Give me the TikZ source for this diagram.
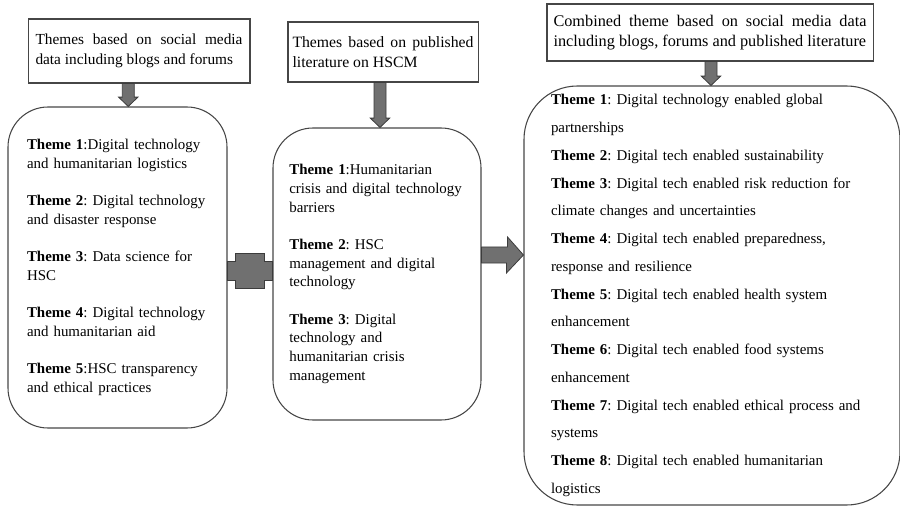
\documentclass[tikz,border=0pt]{standalone}
\usepackage{fontspec}
\setmainfont{Liberation Serif}
\usetikzlibrary{calc}
\frenchspacing
\hyphenpenalty=10000
\exhyphenpenalty=10000

\definecolor{linegray}{RGB}{70,70,70}
\definecolor{arrowgray}{RGB}{112,112,112}
\definecolor{arrowedge}{RGB}{60,60,60}

% block arrow pointing down, from the bottom of #1 to the top of #2
\newcommand{\downblock}[2]{%
  \draw[blockarr] let \p1=(#1.south), \p2=(#2.north), \n1={(\x1+\x2)/2} in
    (\n1-4.5pt,\y1) -- (\n1-4.5pt,\y2+7pt) -- (\n1-7.25pt,\y2+7pt) -- (\n1,\y2)
    -- (\n1+7.25pt,\y2+7pt) -- (\n1+4.5pt,\y2+7pt) -- (\n1+4.5pt,\y1) -- cycle;}

\begin{document}
\begin{tikzpicture}[x=0.75pt,y=-0.75pt,
    srcbox/.style={draw=linegray,line width=0.8pt,align=justify,inner ysep=0pt,
      font=\fontsize{11.5}{14.5}\selectfont},
    themebox/.style={draw=linegray,line width=0.8pt,rounded corners=30pt,
      align=left,inner sep=0pt,font=\fontsize{11.2}{14}\selectfont},
    blockarr/.style={draw=arrowedge,fill=arrowgray,line width=0.6pt}]

  \useasboundingbox (0,0) rectangle (900,506);

  % source boxes
  \node[srcbox,text width=155.25pt,inner xsep=5.6pt,minimum height=48pt] (srcA) at (139,51)
    {Themes based on social media\break data including blogs and forums};
  \node[srcbox,text width=135.75pt,inner xsep=3.4pt,minimum height=45pt,
        font=\fontsize{11.8}{14.5}\selectfont] (srcB) at (383,52)
    {Themes based on published\break literature on HSCM};
  \node[srcbox,text width=234.75pt,inner xsep=4.9pt,minimum height=42.75pt,
        font=\fontsize{12.2}{15}\selectfont] (srcC) at (710,32.5)
    {Combined theme based on social media data\break including blogs, forums and published literature};

  % theme boxes
  \node[themebox,minimum width=164.25pt,minimum height=240.75pt,text width=135.75pt] (box1) at (117.5,267.5)
    {\textbf{Theme 1}:Digital technology\\ and humanitarian logistics\\[14pt]
     \textbf{Theme 2}: Digital technology\\ and disaster response\\[14pt]
     \textbf{Theme 3}: Data science for\\ HSC\\[14pt]
     \textbf{Theme 4}: Digital technology\\ and humanitarian aid\\[14pt]
     \textbf{Theme 5}:HSC transparency\\ and ethical practices};
  \node[themebox,minimum width=156pt,minimum height=219pt,text width=131.5pt] (box2) at (377,274)
    {\textbf{Theme 1}:Humanitarian\\ crisis and digital technology\\ barriers\\[14pt]
     \textbf{Theme 2}: HSC\\ management and digital\\ technology\\[14pt]
     \textbf{Theme 3}: Digital\\ technology and\\ humanitarian crisis\\ management};
  \node[themebox,rounded corners=40pt,minimum width=282pt,minimum height=314.25pt,text width=241.5pt,
        font=\fontsize{11.2}{20.8}\selectfont] (box3) at (712,295.5)
    {\textbf{Theme 1}: Digital technology enabled global\\
     partnerships\\
     \textbf{Theme 2}: Digital tech enabled sustainability\\
     \textbf{Theme 3}: Digital tech enabled risk reduction for\\
     climate changes and uncertainties\\
     \textbf{Theme 4}: Digital tech enabled preparedness,\\
     response and resilience\\
     \textbf{Theme 5}: Digital tech enabled health system\\
     enhancement\\
     \textbf{Theme 6}: Digital tech enabled food systems\\
     enhancement\\
     \textbf{Theme 7}: Digital tech enabled ethical process and\\
     systems\\
     \textbf{Theme 8}: Digital tech enabled humanitarian\\
     logistics};

  % down arrows
  \downblock{srcA}{box1}
  \downblock{srcB}{box2}
  \downblock{srcC}{box3}

  % plus between the first two boxes
  \coordinate (plus) at ($(box1.east)!0.5!(box2.west)$);
  \draw[blockarr] ($(plus)+(-22.5,-9.5)$) -- ++(8,0) -- ++(0,-8) -- ++(29,0) -- ++(0,8)
    -- ++(8,0) -- ++(0,19) -- ++(-8,0) -- ++(0,8) -- ++(-29,0) -- ++(0,-8) -- ++(-8,0) -- cycle;

  % arrow into the combined box
  \coordinate (joinR) at (500,255);
  \draw[blockarr] ($(box2.east |- joinR)+(0,-8)$) -- ++(26,0) -- ++(0,-10) -- (box3.west |- joinR)
    -- ($(box3.west |- joinR)+(-17,18)$) -- ++(0,-10) -- ($(box2.east |- joinR)+(0,8)$) -- cycle;
\end{tikzpicture}
\end{document}
